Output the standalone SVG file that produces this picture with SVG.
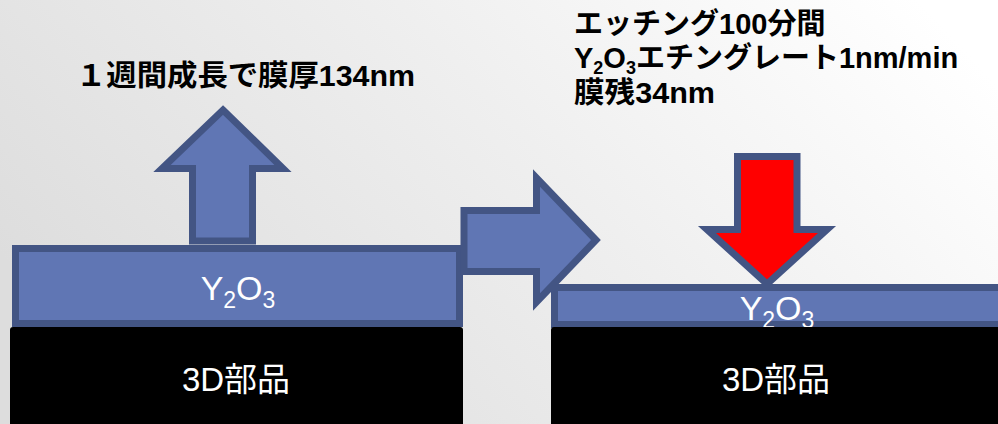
<svg xmlns="http://www.w3.org/2000/svg" width="998" height="424" viewBox="0 0 998 424">
  <defs>
    <linearGradient id="bg" x1="0" y1="0.6" x2="1" y2="0.2">
      <stop offset="0" stop-color="#dddddd"/>
      <stop offset="0.55" stop-color="#efefef"/>
      <stop offset="1" stop-color="#ffffff"/>
    </linearGradient>
  </defs>
  <style>
    .shape { fill: #6076b4; stroke: #435584; stroke-width: 7; stroke-linejoin: miter; }
    .red { fill: #ff0000; stroke: #435584; stroke-width: 7; }
    .part { fill: #000000; }
    .lbl { font-family: "Liberation Sans", "Noto Sans CJK JP", sans-serif; fill: #ffffff; text-anchor: middle; }
    .head { font-family: "Liberation Sans", "Noto Sans CJK JP", sans-serif; font-weight: bold; fill: #000000; font-size: 29px; }
  </style>
  <rect x="0" y="0" width="998" height="424" fill="url(#bg)"/>

  <g id="title-left">
    <text class="head" x="76" y="86" font-size="30" textLength="339" lengthAdjust="spacingAndGlyphs">１週間成長で膜厚134nm</text>
  </g>
  <g id="title-right">
    <text class="head" x="574" y="34">エッチング100分間</text>
    <text class="head" x="574" y="68" font-size="28.5">Y<tspan font-size="18" dy="6">2</tspan><tspan dy="-6">O</tspan><tspan font-size="18" dy="6">3</tspan><tspan dy="-6">エチングレート1nm/min</tspan></text>
    <text class="head" x="574" y="103" font-size="30" textLength="141" lengthAdjust="spacingAndGlyphs">膜残34nm</text>
  </g>

  <g id="arrow-up">
    <path class="shape" d="M223,110 L283,168.5 L252.5,168.5 L252.5,241 L192.5,241 L192.5,168.5 L162,168.5 Z"/>
  </g>

  <g id="layer-left">
    <rect class="shape" x="15.5" y="248.5" width="444" height="75"/>
    <text class="lbl" x="238" y="300" font-size="34">Y<tspan font-size="23" dy="8">2</tspan><tspan dy="-8">O</tspan><tspan font-size="23" dy="8">3</tspan></text>
  </g>

  <g id="part-left">
    <rect class="part" x="10" y="327" width="453" height="100" rx="3"/>
    <text class="lbl" x="236" y="391" font-size="33">3D部品</text>
  </g>

  <g id="connectors">
    <path class="shape" d="M464,210.5 L536.5,210.5 L536.5,178 L596,240 L536.5,302 L536.5,271.5 L464,271.5 Z"/>
  </g>

  <g id="arrow-down">
    <path class="red" d="M737.5,156.5 L797,156.5 L797,229.5 L827,229.5 L767,284 L707,229.5 L737.5,229.5 Z"/>
  </g>

  <g id="layer-right">
    <rect class="shape" x="554.5" y="287.5" width="460" height="37"/>
    <text class="lbl" x="777" y="320" font-size="34">Y<tspan font-size="23" dy="8">2</tspan><tspan dy="-8">O</tspan><tspan font-size="23" dy="8">3</tspan></text>
  </g>

  <g id="part-right">
    <rect class="part" x="551" y="327" width="460" height="100" rx="3"/>
    <text class="lbl" x="776" y="391" font-size="33">3D部品</text>
  </g>
</svg>
